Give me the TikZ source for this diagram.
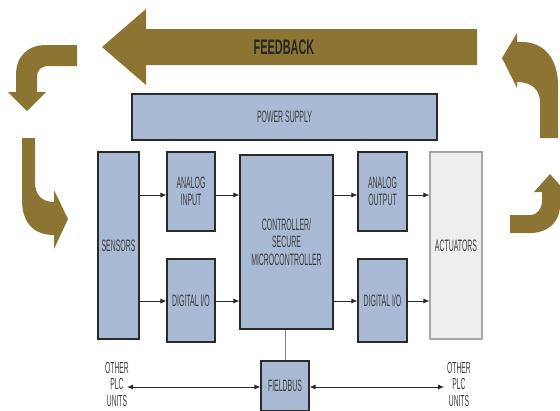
\documentclass[tikz,border=0pt]{standalone}
\usepackage{fontspec}
\usepackage{color}
\usepackage{tikz}
\usetikzlibrary{arrows.meta}
\newfontfamily\narrowfont[FakeStretch=0.42]{Liberation Sans}
\newfontfamily\feedfont[FakeStretch=0.52]{Liberation Sans}
\definecolor{boxblue}{HTML}{A9BAD4}
\definecolor{fbgold}{HTML}{8C7533}
\definecolor{actgray}{HTML}{EEEEEE}
\definecolor{txtgray}{HTML}{3C3C3C}
\definecolor{edgegray}{HTML}{2A2A2A}

\begin{document}
\begin{tikzpicture}[x=1pt, y=-1pt,
  block/.style={draw=edgegray, line width=1.1pt, fill=boxblue, inner sep=0pt,
    text=txtgray, align=center, font=\narrowfont\fontsize{16.5}{17.5}\selectfont},
  actbox/.style={block, draw=gray!70, fill=actgray},
  plc/.style={inner sep=0pt, text=txtgray, align=center,
    font=\narrowfont\fontsize{16}{16.5}\selectfont},
  flow/.style={draw=edgegray, line width=0.8pt, -{Latex[length=6pt,width=5pt]}},
  bus/.style={draw=edgegray, line width=0.8pt, {Latex[length=6pt,width=5pt]}-{Latex[length=6pt,width=5pt]}},
  bigarrow/.style={fill=fbgold, draw=none}]
\useasboundingbox (0,0) rectangle (560,410);
\clip (0,0) rectangle (560,410);

% feedback loop arrows
\fill[bigarrow] (477,29) -- (146,29) -- (146,9) -- (102,47) -- (146,85) -- (146,65) -- (477,65) -- cycle;
\node[font=\feedfont\bfseries\fontsize{21}{22}\selectfont, text=black!85] (feed) at (284,47) {FEEDBACK};
\fill[bigarrow] (77,45) -- (46,45) .. controls (27,45) and (16,57) .. (16,75) -- (16,92) -- (8,92) -- (27,111)
  -- (46,92) -- (37,92) -- (37,77) .. controls (37,70) and (41,66) .. (49,66) -- (77,66) -- cycle;
\fill[bigarrow] (22,138) -- (35,138) -- (35,182) .. controls (35,195) and (42,202) .. (54,202) -- (54,190)
  -- (68,219) -- (54,249) -- (54,235) .. controls (33,235) and (22,222) .. (22,200) -- cycle;
\fill[bigarrow] (540,138) -- (558,138) -- (558,85) .. controls (558,60) and (545,42) .. (522,42) -- (517,42)
  -- (517,33) -- (502,58) -- (517,88) -- (517,82) .. controls (532,82) and (540,90) .. (540,102) -- cycle;
\fill[bigarrow] (510,215) -- (530,215) .. controls (538,215) and (542,208) .. (542,200) -- (542,192)
  -- (534,192) -- (550,174) -- (566,192) -- (560,192) -- (560,205) .. controls (560,222) and (548,233) .. (530,233)
  -- (510,233) -- cycle;

% blocks
\node[block, minimum width=305pt, minimum height=46pt] (power) at (284.5,117) {POWER SUPPLY};
\node[block, minimum width=41pt, minimum height=187pt] (sensors) at (118.5,245.5) {SENSORS};
\node[block, minimum width=48pt, minimum height=79pt] (ain) at (191,191.5) {ANALOG\\INPUT};
\node[block, minimum width=48pt, minimum height=83pt] (dinl) at (191,300.5) {DIGITAL I/O};
\node[block, minimum width=93pt, minimum height=174pt] (ctrl) at (286.5,242) {CONTROLLER/\\SECURE\\MICROCONTROLLER};
\node[block, minimum width=49pt, minimum height=79pt] (aout) at (382.5,191.5) {ANALOG\\OUTPUT};
\node[block, minimum width=49pt, minimum height=83pt] (doutr) at (382.5,300.5) {DIGITAL I/O};
\node[actbox, minimum width=52pt, minimum height=187pt] (act) at (456,245.5) {ACTUATORS};
\node[block, minimum width=48pt, minimum height=50pt] (fbus) at (285,386) {FIELDBUS};
\node[plc] (otherl) at (117,384) {OTHER\\PLC\\UNITS};
\node[plc] (otherr) at (459,384) {OTHER\\PLC\\UNITS};

% signal levels
\coordinate (alev) at (0,195);
\coordinate (dlev) at (0,301);
\coordinate (flev) at (0,387);

\draw[flow] (sensors.east |- alev) -- (ain.west |- alev);
\draw[flow] (ain.east |- alev) -- (ctrl.west |- alev);
\draw[flow] (sensors.east |- dlev) -- (dinl.west |- dlev);
\draw[flow] (dinl.east |- dlev) -- (ctrl.west |- dlev);
\draw[flow] (ctrl.east |- alev) -- (aout.west |- alev);
\draw[flow] (aout.east |- alev) -- (act.west |- alev);
\draw[flow] (ctrl.east |- dlev) -- (doutr.west |- dlev);
\draw[flow] (doutr.east |- dlev) -- (act.west |- dlev);
\draw[gray, line width=1pt] (ctrl.south -| fbus.north) -- (fbus.north);
\draw[bus] ([xshift=-2pt]otherl.east |- flev) -- (fbus.west |- flev);
\draw[bus] (fbus.east |- flev) -- ([xshift=-3pt]otherr.west |- flev);
\end{tikzpicture}
\end{document}
